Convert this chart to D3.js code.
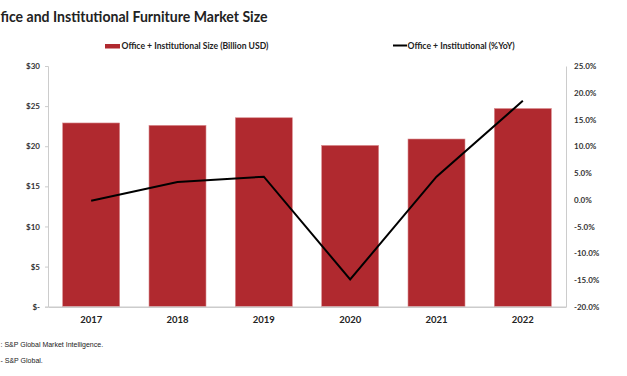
<!DOCTYPE html>
<html><head><meta charset="utf-8">
<script src="https://cdn.jsdelivr.net/npm/d3@7"></script>
<style>body{margin:0;background:#fff}svg{display:block}</style>
</head><body>
<svg id="c" width="627" height="376"></svg>
<script>
const years = ["2017","2018","2019","2020","2021","2022"];
const sizeValues = [22.9, 22.6, 23.55, 20.1, 20.9, 24.7];
const yoyValues = [-0.2, 3.3, 4.3, -14.9, 4.3, 18.5];
const leftTicks = [0,5,10,15,20,25,30];
const rightTicks = [-20,-15,-10,-5,0,5,10,15,20,25];
// texts as visible in the reference (cropped at the left edge there)
const titleText = "fice and Institutional Furniture Market Size";
const sourceText = ": S&P Global Market Intelligence.";
const copyText = "- S&P Global.";
const barLegend = "Office + Institutional Size (Billion USD)";
const lineLegend = "Office + Institutional (%YoY)";

(function(){
const svg = d3.select("#c");
const pLeft = 48, pRight = 566, pTop = 66, pBottom = 306.7;
const x = d3.scaleBand().domain(years).range([pLeft, pRight]).paddingInner(0.34).paddingOuter(0.17);
const yL = d3.scaleLinear().domain([0,30]).range([pBottom, pTop]);
const yR = d3.scaleLinear().domain([-20,25]).range([pBottom, pTop]);
const font = "Lato, 'Open Sans', sans-serif";
const red = "#B0292F";

svg.append("text").attr("x", 0.5).attr("y", 22).attr("font-family", font).attr("font-size", 16)
  .attr("font-weight", 700).attr("fill", "#222")
  .attr("textLength", 267).attr("lengthAdjust", "spacingAndGlyphs").text(titleText);

svg.append("rect").attr("x", 105).attr("y", 44).attr("width", 15).attr("height", 4.5).attr("fill", red);
svg.append("text").attr("x", 121.5).attr("y", 49).attr("font-family", font).attr("font-size", 8.6)
  .attr("font-weight", 700).attr("fill", "#222").text(barLegend);
svg.append("line").attr("x1", 393).attr("x2", 407).attr("y1", 45.5).attr("y2", 45.5).attr("stroke", "#000").attr("stroke-width", 2);
svg.append("text").attr("x", 407.5).attr("y", 49).attr("font-family", font).attr("font-size", 8.6)
  .attr("font-weight", 700).attr("fill", "#222").text(lineLegend);

svg.append("g").selectAll("rect").data(years).join("rect")
  .attr("x", d => x(d)).attr("width", x.bandwidth())
  .attr("y", (d,i) => yL(sizeValues[i])).attr("height", (d,i) => pBottom - yL(sizeValues[i]))
  .attr("fill", red).attr("stroke", "#d98a8e").attr("stroke-width", 0.6);

const gl = svg.append("g").attr("transform", `translate(${pLeft},0)`)
  .call(d3.axisLeft(yL).tickValues(leftTicks).tickSize(3).tickPadding(5)
    .tickFormat(d => d === 0 ? "$-" : "$" + d));
gl.select(".domain").attr("stroke", "#ccc");
gl.selectAll(".tick line").attr("stroke", "#ccc");
gl.selectAll("text").attr("font-family", font).attr("font-size", 8).attr("font-weight", 700).attr("fill", "#333");

const gr = svg.append("g").attr("transform", `translate(${pRight},0)`)
  .call(d3.axisRight(yR).tickValues(rightTicks).tickSize(0).tickPadding(8)
    .tickFormat(d => d.toFixed(1) + "%"));
gr.select(".domain").attr("stroke", "#ccc");
gr.selectAll("text").attr("font-family", font).attr("font-size", 8).attr("font-weight", 700).attr("fill", "#333");

const gb = svg.append("g").attr("transform", `translate(0,${pBottom})`)
  .call(d3.axisBottom(x).tickSize(0).tickPadding(10));
gb.select(".domain").attr("stroke", "#ccc").attr("stroke-width", 1.5);
gb.selectAll("text").attr("font-family", font).attr("font-size", 9.5).attr("font-weight", 700).attr("fill", "#222");

const line = d3.line().x((d,i) => x(years[i]) + x.bandwidth()/2).y(d => yR(d));
svg.append("path").datum(yoyValues).attr("d", line).attr("fill", "none").attr("stroke", "#000").attr("stroke-width", 2);

const fn = "'Liberation Sans', Arial, sans-serif";
svg.append("text").attr("x", 0.5).attr("y", 346.5).attr("font-family", fn).attr("font-size", 7).attr("fill", "#222").text(sourceText);
svg.append("text").attr("x", 0.5).attr("y", 363).attr("font-family", fn).attr("font-size", 7).attr("fill", "#222").text(copyText);
})();
</script>
</body></html>
